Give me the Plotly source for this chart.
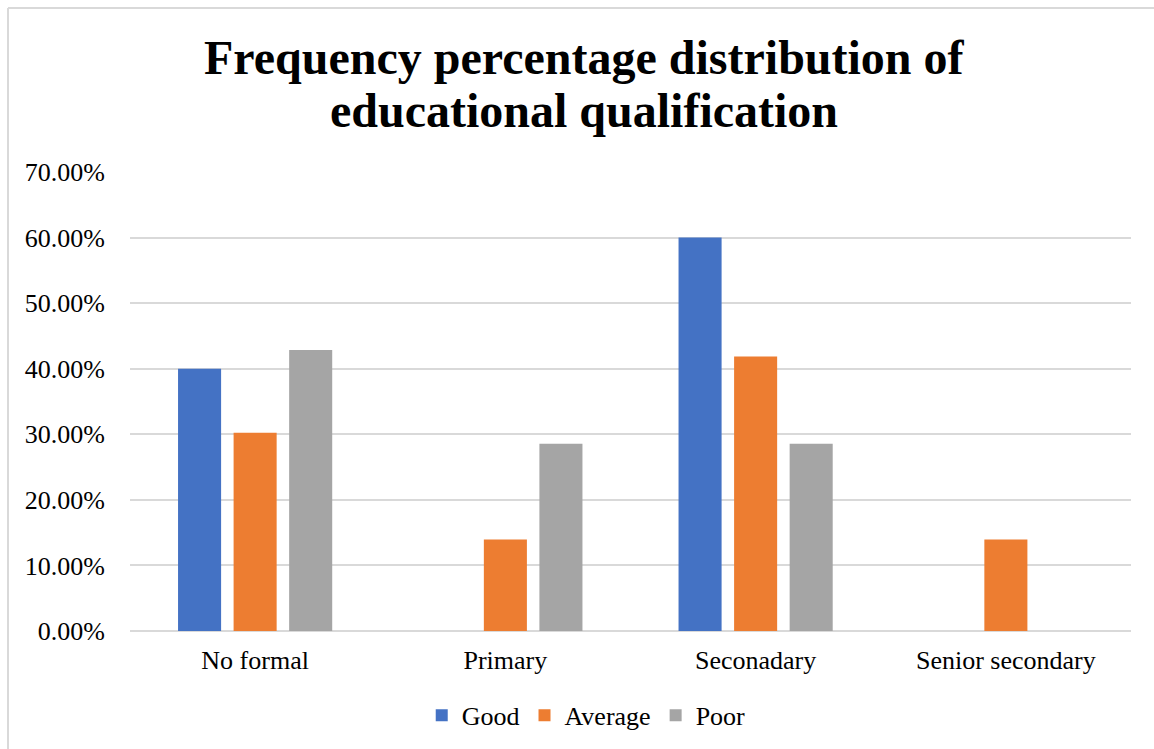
import plotly.graph_objects as go

# Education levels and the share of respondents in each rating group
categories = ["No formal", "Primary", "Seconadary", "Senior secondary"]
good = [0.40, 0.0, 0.60, 0.0]
average = [0.3023, 0.1395, 0.4186, 0.1395]
poor = [0.4286, 0.2857, 0.2857, 0.0]

series_names = ["Good", "Average", "Poor"]
series_colors = ["#4472C4", "#ED7D31", "#A5A5A5"]

title_lines = ["Frequency percentage distribution of", "educational qualification"]

W, H = 1154, 749
M_L, M_R, M_T, M_B = 130, 23, 172, 118
FONT = "Liberation Serif, Times New Roman, serif"

fig = go.Figure()
for name, vals, color in zip(series_names, [good, average, poor], series_colors):
    fig.add_trace(go.Bar(
        x=categories, y=vals, name=name,
        marker=dict(color=color, line=dict(width=0)),
    ))

plot_w = W - M_L - M_R
plot_h = H - M_T - M_B

# chart border (left and top edges)
fx = (8 - M_L) / plot_w
fy = 1 + (M_T - 8) / plot_h
for x0, y0, x1, y1 in [(fx, fy, fx, -M_B / plot_h - 0.05), (fx, fy, 1 + (M_R + 10) / plot_w, fy)]:
    fig.add_shape(type="line", xref="paper", yref="paper",
                  x0=x0, y0=y0, x1=x1, y1=y1,
                  line=dict(color="#D9D9D9", width=2))

# two-line bold title, with tighter line spacing than a <br> title
title_x = (584 - M_L) / plot_w
for line, centre_px in zip(title_lines, [57, 111]):
    fig.add_annotation(
        text=f"<b>{line}</b>", xref="paper", yref="paper",
        x=title_x, y=1 + (M_T - centre_px) / plot_h,
        xanchor="center", yanchor="middle", showarrow=False,
        font=dict(family=FONT, size=48, color="#000000"),
    )

fig.update_layout(
    width=W, height=H, autosize=False,
    margin=dict(l=M_L, r=M_R, t=M_T, b=M_B, autoexpand=False),
    paper_bgcolor="white", plot_bgcolor="white",
    barmode="group", bargap=0.334, bargroupgap=0.225,
    font=dict(family=FONT, size=26, color="#000000"),
    legend=dict(
        orientation="h", xref="container", x=0.508, xanchor="center",
        yref="container", y=0.045, yanchor="middle",
        font=dict(family=FONT, size=26), itemwidth=30,
        traceorder="normal",
    ),
    xaxis=dict(showgrid=False, showline=False, ticks="", ticklabelstandoff=11,
               tickangle=0, automargin=False,
               tickfont=dict(family=FONT, size=26)),
    yaxis=dict(range=[0, 0.70], dtick=0.10, tickformat=".2%",
               showgrid=True, gridcolor="#D9D9D9", gridwidth=1.5,
               zeroline=True, zerolinecolor="#D9D9D9", zerolinewidth=1.5,
               showline=False, ticks="", ticklabelstandoff=24, automargin=False,
               tickfont=dict(family=FONT, size=26)),
)

fig.write_html("out.html")
